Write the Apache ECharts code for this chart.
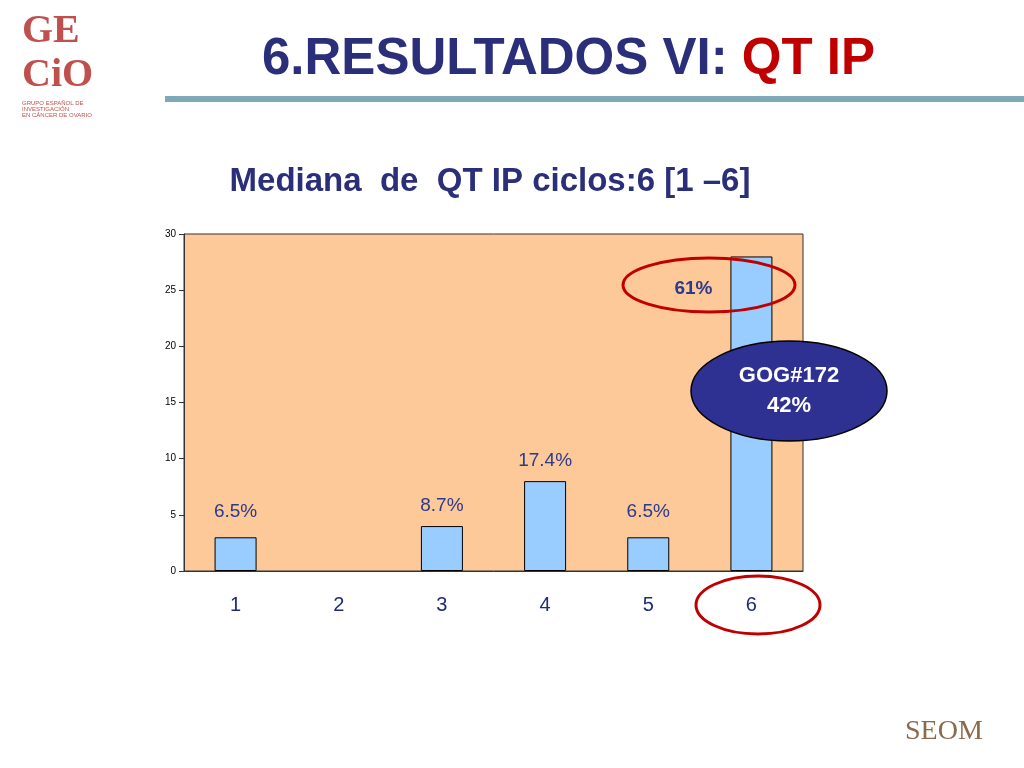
<!DOCTYPE html><html><head><meta charset="utf-8"><script src="https://cdn.jsdelivr.net/npm/echarts@6/dist/echarts.min.js"></script>
<style>body{margin:0}#c{width:1024px;height:768px}</style></head><body><div id="c"></div><script>
const categories=['1','2','3','4','5','6'];
const values=[3,0,4,8,3,28];
const pctLabels=['6.5%','','8.7%','17.4%','6.5%','61%'];
const yTicks=[0,5,10,15,20,25,30];
const labelOffsets=[[0,-2],[0,0],[0,3],[0,3],[0,-2],[-58,56]];
const chart=echarts.init(document.getElementById('c'));
chart.setOption({
 backgroundColor:'#fff',
 title:{text:'Mediana  de  QT IP ciclos:6 [1 –6]',left:485,top:160,textAlign:'center',textStyle:{fontFamily:'Liberation Sans',fontWeight:'bold',fontSize:33,color:'#2b2f7a'}},
 grid:{left:184,top:234,width:619,height:337,backgroundColor:'#fdc998',show:true,borderColor:'#333',borderWidth:1},
 xAxis:{type:'category',data:categories,axisTick:{show:false},axisLine:{lineStyle:{color:'#333'}},axisLabel:{fontSize:20,color:'#1f2a7a',fontFamily:'Liberation Sans',margin:24}},
 yAxis:{type:'value',min:0,max:30,interval:5,splitLine:{show:false},axisLine:{show:true,lineStyle:{color:'#333'}},axisTick:{show:true},axisLabel:{fontSize:10,color:'#000'}},
 series:[{type:'bar',barWidth:42,data:values.map((v,i)=>({value:v,itemStyle:v===0?{borderWidth:0,opacity:0}:undefined,label:{show:pctLabels[i]!=='',offset:labelOffsets[i],fontWeight:i===5?'bold':'normal'}})),
  itemStyle:{color:'#99ccff',borderColor:'#000',borderWidth:1},
  label:{position:'top',distance:14,formatter:p=>pctLabels[p.dataIndex],fontSize:19,color:'#2b3a8a',fontFamily:'Liberation Sans'}}],
 graphic:[
  {type:'text',left:262,top:34,style:{rich:{a:{font:'bold 51px Liberation Sans',fill:'#2b2f7a'},b:{font:'bold 51px Liberation Sans',fill:'#c00000'}},text:'{a|6.RESULTADOS VI: }{b|QT IP}'}},
  {type:'rect',shape:{x:165,y:96,width:859,height:6},style:{fill:'#7fa8b8'}},
  {type:'text',left:22,top:10,style:{text:'GE\nCiO',font:'bold 40px Liberation Serif',fill:'#c0504d',lineHeight:44}},
  {type:'text',left:22,top:100,style:{text:'GRUPO ESPAÑOL DE\nINVESTIGACIÓN\nEN CÁNCER DE OVARIO',font:'6px Liberation Sans',fill:'#c0504d'}},
  {type:'ellipse',z:100,shape:{cx:709,cy:285,rx:86,ry:27},style:{fill:'none',stroke:'#c00000',lineWidth:3}},
  {type:'ellipse',z:100,shape:{cx:758,cy:605,rx:62,ry:29},style:{fill:'none',stroke:'#c00000',lineWidth:3}},
  {type:'ellipse',z:100,shape:{cx:789,cy:391,rx:98,ry:50},style:{fill:'#2e3192',stroke:'#000',lineWidth:1.5}},
  {type:'text',z:101,x:789,y:391,style:{text:'GOG#172\n42%',font:'bold 22px Liberation Sans',fill:'#fff',align:'center',verticalAlign:'middle',lineHeight:30}},
  {type:'text',left:905,top:718,style:{text:'SEOM',font:'28px Liberation Serif',fill:'#8a6a4a'}}
 ]
});
</script></body></html>
